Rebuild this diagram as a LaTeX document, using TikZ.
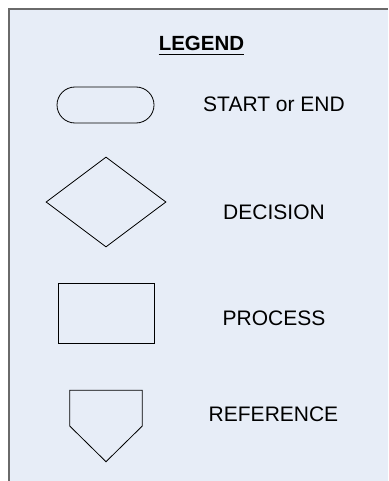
\documentclass[tikz,border=0pt]{standalone}
\usepackage{fontspec}
\setmainfont{Liberation Sans}
\usetikzlibrary{shapes.geometric}
\definecolor{panelbg}{HTML}{E7EDF7}
\definecolor{panelline}{HTML}{6A6A6A}
\tikzset{
  shapeline/.style={draw=black, line width=0.8pt},
  lbl/.style={inner sep=0pt, anchor=base, font=\fontsize{21}{25}\selectfont},
}
\begin{document}
\begin{tikzpicture}[x=1pt, y=-1pt]
\useasboundingbox (0,0) rectangle (388,481);
% panel
\fill[panelbg] (9,9) rectangle (388,481);
\draw[panelline, line width=1.2pt] (9,481) -- (9,9) -- (388,9);
% title
\node[inner sep=0pt, anchor=base, font=\fontsize{20.5}{24}\selectfont\bfseries] (legend) at (201.5,51) {LEGEND};
\draw[line width=1.6pt] ([yshift=-3.5pt]legend.base west) -- ([yshift=-3.5pt]legend.base east);
% start/end
\node[shapeline, rounded corners=18pt, minimum width=97pt, minimum height=36pt, inner sep=0pt] (term) at (105.5,105) {};
\node[lbl] (termlbl) at (274,111.7) {START or END};
% decision
\node[shapeline, diamond, minimum width=120pt, minimum height=90pt, inner sep=0pt] (dec) at (106,202) {};
\node[lbl] (declbl) at (274,219) {DECISION};
% process
\node[shapeline, rectangle, minimum width=96pt, minimum height=60pt, inner sep=0pt] (proc) at (106,313) {};
\node[lbl] (proclbl) at (274,325) {PROCESS};
% reference (off-page connector)
\coordinate (ref) at (106,426);
\draw[shapeline] (ref) ++(-36.3,-35.7) -- ++(72.6,0) -- ++(0,35.7) -- ++(-36.3,35.7) -- ++(-36.3,-35.7) -- cycle;
\node[lbl] (reflbl) at (273.5,421.7) {REFERENCE};
\end{tikzpicture}
\end{document}
